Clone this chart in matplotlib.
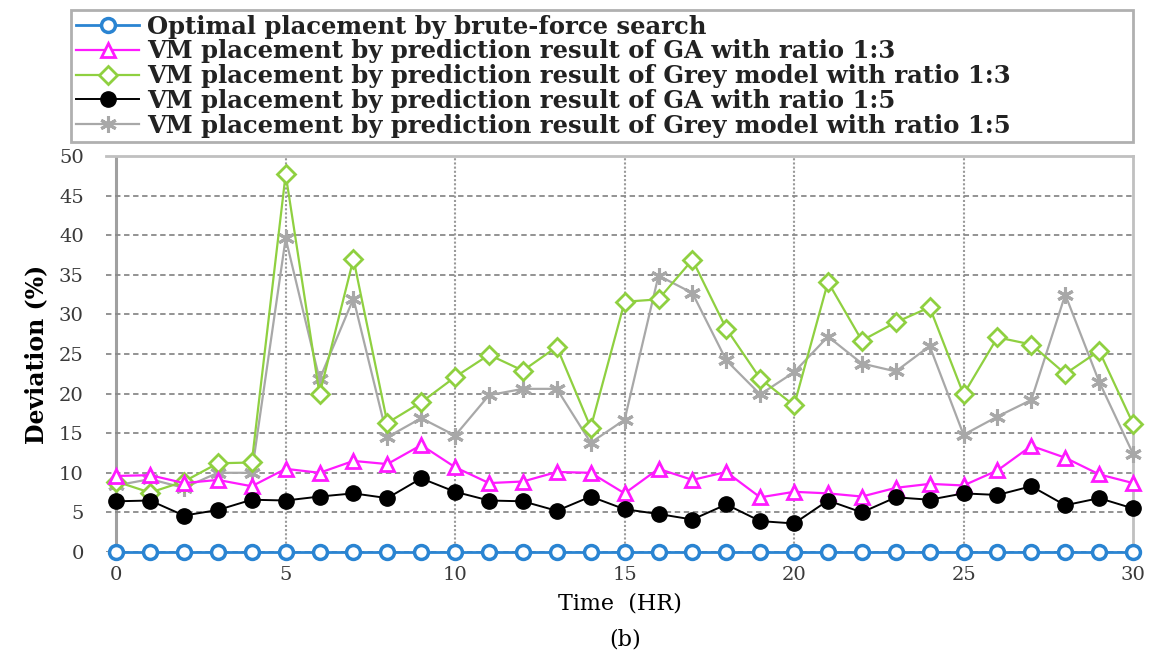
import numpy as np
import matplotlib
matplotlib.use('Agg')
import matplotlib.pyplot as plt


hours = list(range(0, 31))

optimal = [0] * 31

ga_13 = [9.6, 9.7, 8.7, 9.1, 8.3, 10.5, 10.0, 11.5, 11.1, 13.5, 10.7,
         8.7, 8.9, 10.1, 10.0, 7.4, 10.5, 9.1, 10.1, 6.9, 7.6,
         7.4, 7.0, 8.1, 8.6, 8.4, 10.3, 13.4, 11.9, 9.8, 8.7]

grey_13 = [8.9, 7.5, 8.9, 11.2, 11.3, 47.7, 19.9, 37.0, 16.3, 18.9, 22.1,
           24.9, 22.9, 25.9, 15.7, 31.6, 31.9, 36.9, 28.2, 21.9, 18.5,
           34.1, 26.7, 29.0, 30.9, 19.9, 27.1, 26.2, 22.5, 25.4, 16.2]

ga_15 = [6.4, 6.5, 4.6, 5.3, 6.6, 6.5, 7.0, 7.4, 6.8, 9.3, 7.6,
         6.5, 6.4, 5.2, 7.0, 5.4, 4.8, 4.1, 6.0, 3.9, 3.6,
         6.5, 5.0, 6.9, 6.6, 7.4, 7.2, 8.3, 5.9, 6.8, 5.5]

grey_15 = [8.4, 9.2, 8.1, 10.0, 10.0, 39.6, 21.8, 32.0, 14.5, 16.9, 14.7,
           19.8, 20.6, 20.6, 13.8, 16.7, 34.9, 32.7, 24.2, 19.9, 22.7,
           27.2, 23.8, 22.8, 26.0, 14.8, 17.1, 19.2, 32.5, 21.5, 12.4]

labels = ['Optimal placement by brute-force search',
          'VM placement by prediction result of GA with ratio 1:3',
          'VM placement by prediction result of Grey model with ratio 1:3',
          'VM placement by prediction result of GA with ratio 1:5',
          'VM placement by prediction result of Grey model with ratio 1:5']


plt.rcParams['font.family'] = ['DejaVu Serif']

fig = plt.figure(figsize=(11.51, 6.52), dpi=100)
ax = fig.add_axes([0.0921, 0.1534, 0.8923, 0.6073])

blue = '#2a84d2'
pink = '#ff1aff'
green = '#8fd040'
gray = '#a8a8a8'

ax.plot(hours, grey_15, color=gray, lw=1.6, marker=(6, 2, 0), ms=12, mew=2.2,
        label=labels[4], clip_on=False, zorder=3)
ax.plot(hours, grey_13, color=green, lw=1.6, marker='D', ms=9, mew=2,
        mfc='white', label=labels[2], clip_on=False, zorder=4)
ax.plot(hours, ga_13, color=pink, lw=1.6, marker='^', ms=10, mew=2,
        mfc='white', label=labels[1], clip_on=False, zorder=5)
ax.plot(hours, ga_15, color='black', lw=1.4, marker='o', ms=11,
        label=labels[3], clip_on=False, zorder=6)
ax.plot(hours, optimal, color=blue, lw=2, marker='o', ms=10, mew=2.5,
        mfc='white', label=labels[0], clip_on=False, zorder=7)

ax.set_xlim(-0.3, 30)
ax.set_ylim(0, 50)
ax.set_xticks(range(0, 31, 5))
ax.set_yticks(range(0, 51, 5))
ax.tick_params(length=0, labelsize=14, colors='#3a3a3a')
ax.tick_params(axis='x', pad=10)
ax.tick_params(axis='y', pad=16)

ax.grid(axis='y', color='#8a8a8a', ls=(0, (3, 2)), lw=1.3)
for xv in range(5, 30, 5):
    ax.axvline(xv, color='#9a9a9a', ls=(0, (1, 1)), lw=1.5, zorder=1)
ax.axvline(0, color='#a0a0a0', lw=2.2, zorder=1)

for side in ['top', 'right']:
    ax.spines[side].set_color('#c0c0c0')
    ax.spines[side].set_linewidth(2)
ax.spines['left'].set_visible(False)
ax.spines['bottom'].set_visible(False)

ax.set_ylabel('Deviation (%)', fontsize=17, fontweight='bold', labelpad=8)
ax.set_xlabel('Time  (HR)', fontsize=16, labelpad=6)
fig.text(0.543, 0.01, '(b)', fontsize=16, ha='center')

handles, labs = ax.get_legend_handles_labels()
order = [labs.index(l) for l in labels]
leg = fig.legend([handles[i] for i in order], labels,
                 loc='upper left', bbox_to_anchor=(0.062, 0.785, 0.922, 0.2),
                 mode='expand', fontsize=17.5, labelspacing=0.03,
                 handlelength=2.6, handletextpad=0.3, borderpad=0.2,
                 borderaxespad=0, fancybox=False, edgecolor='#b0b0b0',
                 framealpha=1)
leg.get_frame().set_linewidth(2)
for t in leg.get_texts():
    t.set_fontweight('bold')
    t.set_color('#222222')

fig.savefig('out.png', dpi=100)
